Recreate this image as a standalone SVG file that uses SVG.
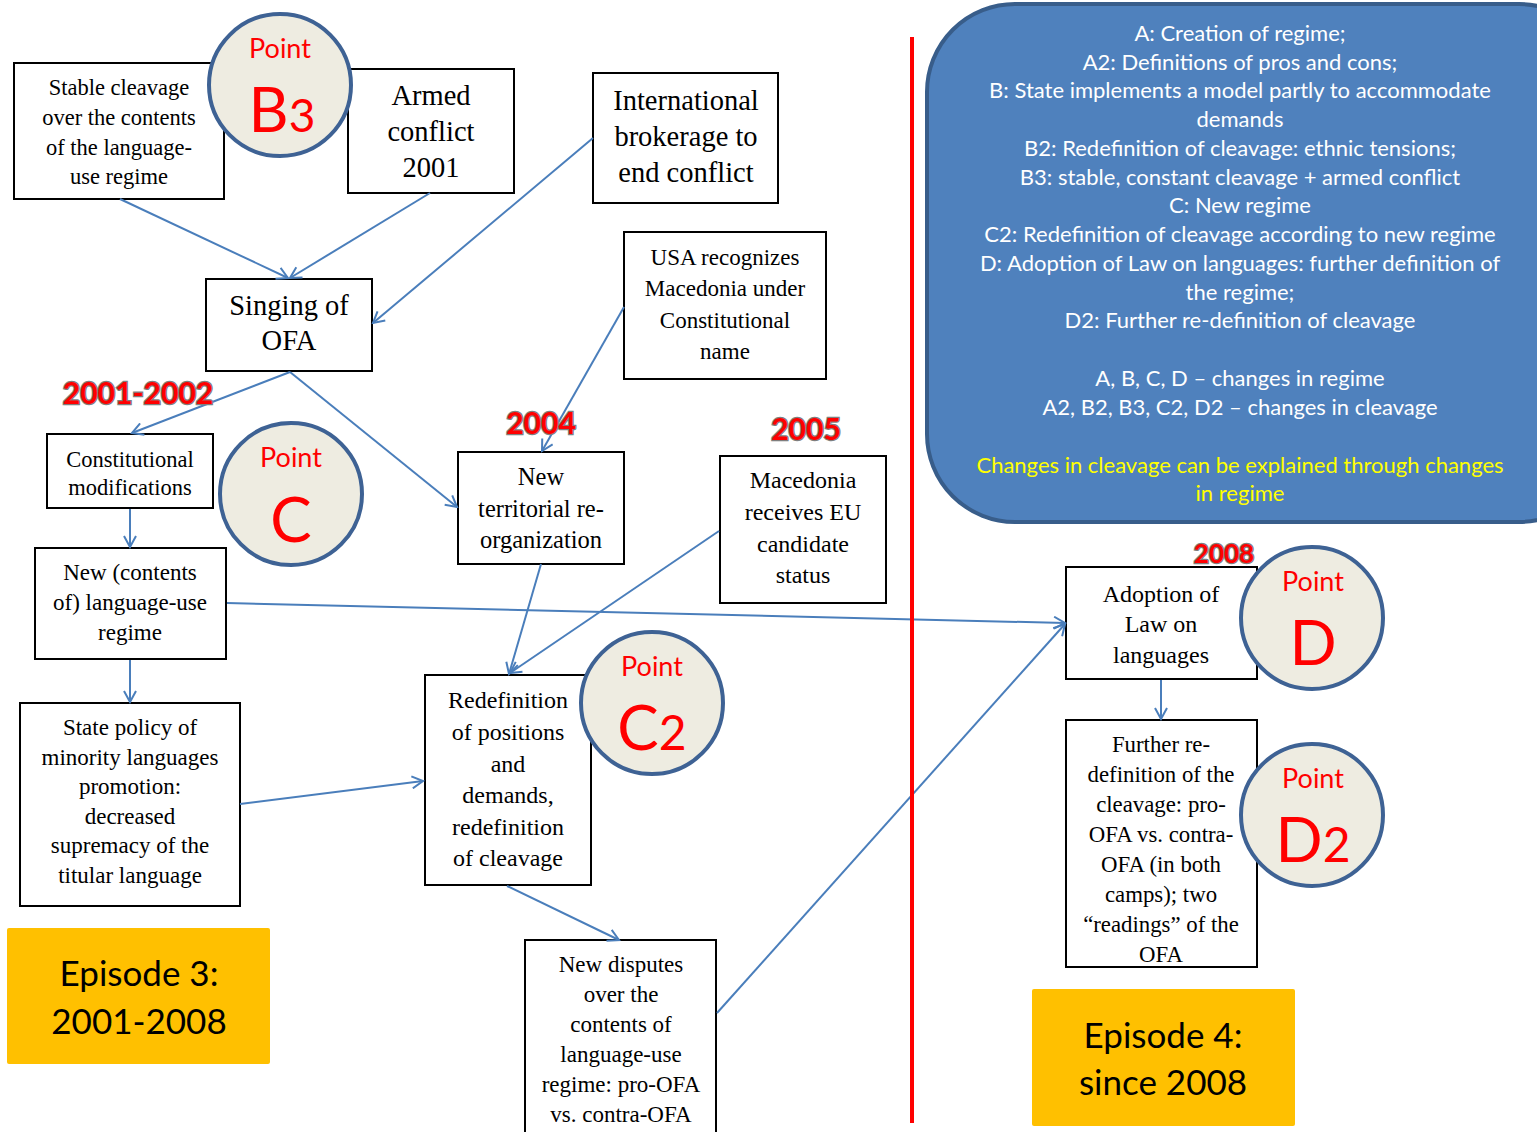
<svg xmlns="http://www.w3.org/2000/svg" width="1537" height="1132" viewBox="0 0 1537 1132">
<style>
.box{fill:#fff;stroke:#000;stroke-width:2}
.bt{font-family:"Liberation Serif","Times New Roman",serif;fill:#000;text-anchor:middle}
.cir{fill:#EEECE1;stroke:#3E6294;stroke-width:4}
.pt{font-family:Lato,"Liberation Sans",sans-serif;fill:#FF0000;text-anchor:middle}
.yr{font-family:Lato,"Liberation Sans",sans-serif;font-weight:bold;fill:#FF0000;stroke:#7F7F7F;stroke-width:2.5;paint-order:stroke;text-anchor:middle}
.con{fill:none;stroke:#4A7EBB;stroke-width:2;marker-end:url(#arr)}
.bl{font-family:Lato,"Liberation Sans",sans-serif;font-size:22px;fill:#fff;text-anchor:middle}
.yl{fill:#FFFF00}
.ep{fill:#FFC000}
.et{font-family:Lato,"Liberation Sans",sans-serif;font-size:35px;fill:#000;text-anchor:middle}
</style>
<defs>
<marker id="arr" markerUnits="userSpaceOnUse" markerWidth="14" markerHeight="14" refX="12" refY="7" orient="auto">
<path d="M1,1 L12,7 L1,13" fill="none" stroke="#4A7EBB" stroke-width="2"/>
</marker>
</defs>
<rect width="1537" height="1132" fill="#fff"/>

<g id="legend">
<rect x="927" y="4" width="680" height="518" rx="88" ry="88" fill="#4F81BD" stroke="#385D8A" stroke-width="4"/>
<text class="bl" x="1240" y="41">A: Creation of regime;</text>
<text class="bl" x="1240" y="70">A2: Definitions of pros and cons;</text>
<text class="bl" x="1240" y="98">B: State implements a model partly to accommodate</text>
<text class="bl" x="1240" y="127">demands</text>
<text class="bl" x="1240" y="156">B2: Redefinition of cleavage: ethnic tensions;</text>
<text class="bl" x="1240" y="185">B3: stable, constant cleavage + armed conflict</text>
<text class="bl" x="1240" y="213">C: New regime</text>
<text class="bl" x="1240" y="242">C2: Redefinition of cleavage according to new regime</text>
<text class="bl" x="1240" y="271">D: Adoption of Law on languages: further definition of</text>
<text class="bl" x="1240" y="300">the regime;</text>
<text class="bl" x="1240" y="328">D2: Further re-definition of cleavage</text>
<text class="bl" x="1240" y="386">A, B, C, D – changes in regime</text>
<text class="bl" x="1240" y="415">A2, B2, B3, C2, D2 – changes in cleavage</text>
<text class="bl yl" x="1240" y="473">Changes in cleavage can be explained through changes</text>
<text class="bl yl" x="1240" y="501">in regime</text>
</g>

<g id="n-stable">
<rect class="box" x="14" y="63" width="210" height="136"/>
<text class="bt" font-size="22.5"><tspan x="119" y="95">Stable cleavage</tspan><tspan x="119" y="125">over the contents</tspan><tspan x="119" y="155">of the language-</tspan><tspan x="119" y="184">use regime</tspan></text>
</g>
<g id="n-armed">
<rect class="box" x="348" y="69" width="166" height="124"/>
<text class="bt" font-size="28.5"><tspan x="431" y="105">Armed</tspan><tspan x="431" y="141">conflict</tspan><tspan x="431" y="177">2001</tspan></text>
</g>
<g id="n-intl">
<rect class="box" x="593" y="73" width="185" height="130"/>
<text class="bt" font-size="28.5"><tspan x="686" y="110">International</tspan><tspan x="686" y="146">brokerage to</tspan><tspan x="686" y="182">end conflict</tspan></text>
</g>
<g id="n-ofa">
<rect class="box" x="206" y="279" width="166" height="92"/>
<text class="bt" font-size="28.5"><tspan x="289" y="315">Singing of</tspan><tspan x="289" y="350">OFA</tspan></text>
</g>
<g id="n-usa">
<rect class="box" x="624" y="232" width="202" height="147"/>
<text class="bt" font-size="23"><tspan x="725" y="265">USA recognizes</tspan><tspan x="725" y="296">Macedonia under</tspan><tspan x="725" y="328">Constitutional</tspan><tspan x="725" y="359">name</tspan></text>
</g>
<g id="n-const">
<rect class="box" x="47" y="434" width="166" height="74"/>
<text class="bt" font-size="22.5"><tspan x="130" y="467">Constitutional</tspan><tspan x="130" y="495">modifications</tspan></text>
</g>
<g id="n-newregime">
<rect class="box" x="35" y="548" width="191" height="111"/>
<text class="bt" font-size="23"><tspan x="130" y="580">New (contents</tspan><tspan x="130" y="610">of) language-use</tspan><tspan x="130" y="640">regime</tspan></text>
</g>
<g id="n-policy">
<rect class="box" x="20" y="703" width="220" height="203"/>
<text class="bt" font-size="23"><tspan x="130" y="735">State policy of</tspan><tspan x="130" y="764.5">minority languages</tspan><tspan x="130" y="794">promotion:</tspan><tspan x="130" y="823.5">decreased</tspan><tspan x="130" y="853">supremacy of the</tspan><tspan x="130" y="882.5">titular language</tspan></text>
</g>
<g id="n-territorial">
<rect class="box" x="458" y="452" width="166" height="112"/>
<text class="bt" font-size="24.5"><tspan x="541" y="485">New</tspan><tspan x="541" y="517">territorial re-</tspan><tspan x="541" y="548">organization</tspan></text>
</g>
<g id="n-eu">
<rect class="box" x="720" y="456" width="166" height="147"/>
<text class="bt" font-size="24"><tspan x="803" y="488">Macedonia</tspan><tspan x="803" y="520">receives EU</tspan><tspan x="803" y="552">candidate</tspan><tspan x="803" y="583">status</tspan></text>
</g>
<g id="n-redef">
<rect class="box" x="425" y="675" width="166" height="210"/>
<text class="bt" font-size="24"><tspan x="508" y="708">Redefinition</tspan><tspan x="508" y="740">of positions</tspan><tspan x="508" y="772">and</tspan><tspan x="508" y="803">demands,</tspan><tspan x="508" y="835">redefinition</tspan><tspan x="508" y="866">of cleavage</tspan></text>
</g>
<g id="n-disputes">
<rect class="box" x="525" y="940" width="191" height="200"/>
<text class="bt" font-size="23"><tspan x="621" y="972">New disputes</tspan><tspan x="621" y="1002">over the</tspan><tspan x="621" y="1032">contents of</tspan><tspan x="621" y="1062">language-use</tspan><tspan x="621" y="1092">regime: pro-OFA</tspan><tspan x="621" y="1122">vs. contra-OFA</tspan></text>
</g>
<g id="n-law">
<rect class="box" x="1066" y="567" width="191" height="112"/>
<text class="bt" font-size="24"><tspan x="1161" y="602">Adoption of</tspan><tspan x="1161" y="632">Law on</tspan><tspan x="1161" y="663">languages</tspan></text>
</g>
<g id="n-further">
<rect class="box" x="1066" y="720" width="191" height="247"/>
<text class="bt" font-size="22.8"><tspan x="1161" y="752">Further re-</tspan><tspan x="1161" y="782">definition of the</tspan><tspan x="1161" y="812">cleavage: pro-</tspan><tspan x="1161" y="842">OFA vs. contra-</tspan><tspan x="1161" y="872">OFA (in both</tspan><tspan x="1161" y="902">camps); two</tspan><tspan x="1161" y="932">“readings” of the</tspan><tspan x="1161" y="962">OFA</tspan></text>
</g>

<g id="connectors">
<line class="con" x1="120" y1="199" x2="288" y2="278"/>
<line class="con" x1="430" y1="193" x2="290" y2="278"/>
<line class="con" x1="593" y1="138" x2="373" y2="323"/>
<line class="con" x1="290" y1="372" x2="132" y2="433"/>
<line class="con" x1="290" y1="372" x2="457" y2="507"/>
<line class="con" x1="624" y1="307" x2="542" y2="451"/>
<line class="con" x1="130" y1="509" x2="130" y2="547"/>
<line class="con" x1="227" y1="603" x2="1065" y2="623"/>
<line class="con" x1="130" y1="660" x2="130" y2="702"/>
<line class="con" x1="240" y1="804" x2="423" y2="781"/>
<line class="con" x1="541" y1="564" x2="509" y2="674"/>
<line class="con" x1="719" y1="531" x2="510" y2="673"/>
<line class="con" x1="507" y1="886" x2="619" y2="940"/>
<line class="con" x1="717" y1="1013" x2="1065" y2="624"/>
<line class="con" x1="1161" y1="680" x2="1161" y2="719"/>
</g>

<g id="divider">
<line x1="912" y1="37" x2="912" y2="1123" stroke="#FF0000" stroke-width="4"/>
</g>

<g id="years">
<text class="yr" x="138" y="404" font-size="30">2001-2002</text>
<text class="yr" x="541" y="434" font-size="30">2004</text>
<text class="yr" x="806" y="440" font-size="30">2005</text>
<text class="yr" x="1224" y="563" font-size="26">2008</text>
</g>

<g id="p-b3">
<circle class="cir" cx="280" cy="85" r="71"/>
<text class="pt" x="280" y="58" font-size="27">Point</text>
<text class="pt" x="282" y="132" font-size="62">B<tspan font-size="46">3</tspan></text>
</g>
<g id="p-c">
<circle class="cir" cx="291" cy="494" r="71"/>
<text class="pt" x="291" y="467" font-size="27">Point</text>
<text class="pt" x="291" y="542" font-size="62">C</text>
</g>
<g id="p-c2">
<circle class="cir" cx="652" cy="703" r="71"/>
<text class="pt" x="652" y="676" font-size="27">Point</text>
<text class="pt" x="652" y="750" font-size="62">C<tspan font-size="48">2</tspan></text>
</g>
<g id="p-d">
<circle class="cir" cx="1312" cy="618" r="71"/>
<text class="pt" x="1313" y="591" font-size="27">Point</text>
<text class="pt" x="1313" y="665" font-size="62">D</text>
</g>
<g id="p-d2">
<circle class="cir" cx="1312" cy="815" r="71"/>
<text class="pt" x="1313" y="788" font-size="27">Point</text>
<text class="pt" x="1313" y="862" font-size="62">D<tspan font-size="48">2</tspan></text>
</g>

<g id="episode3">
<rect class="ep" x="7" y="928" width="263" height="136" rx="2"/>
<text class="et"><tspan x="139" y="986">Episode 3:</tspan><tspan x="139" y="1034">2001-2008</tspan></text>
</g>
<g id="episode4">
<rect class="ep" x="1032" y="989" width="263" height="137" rx="2"/>
<text class="et"><tspan x="1163" y="1048">Episode 4:</tspan><tspan x="1163" y="1095">since 2008</tspan></text>
</g>
</svg>
